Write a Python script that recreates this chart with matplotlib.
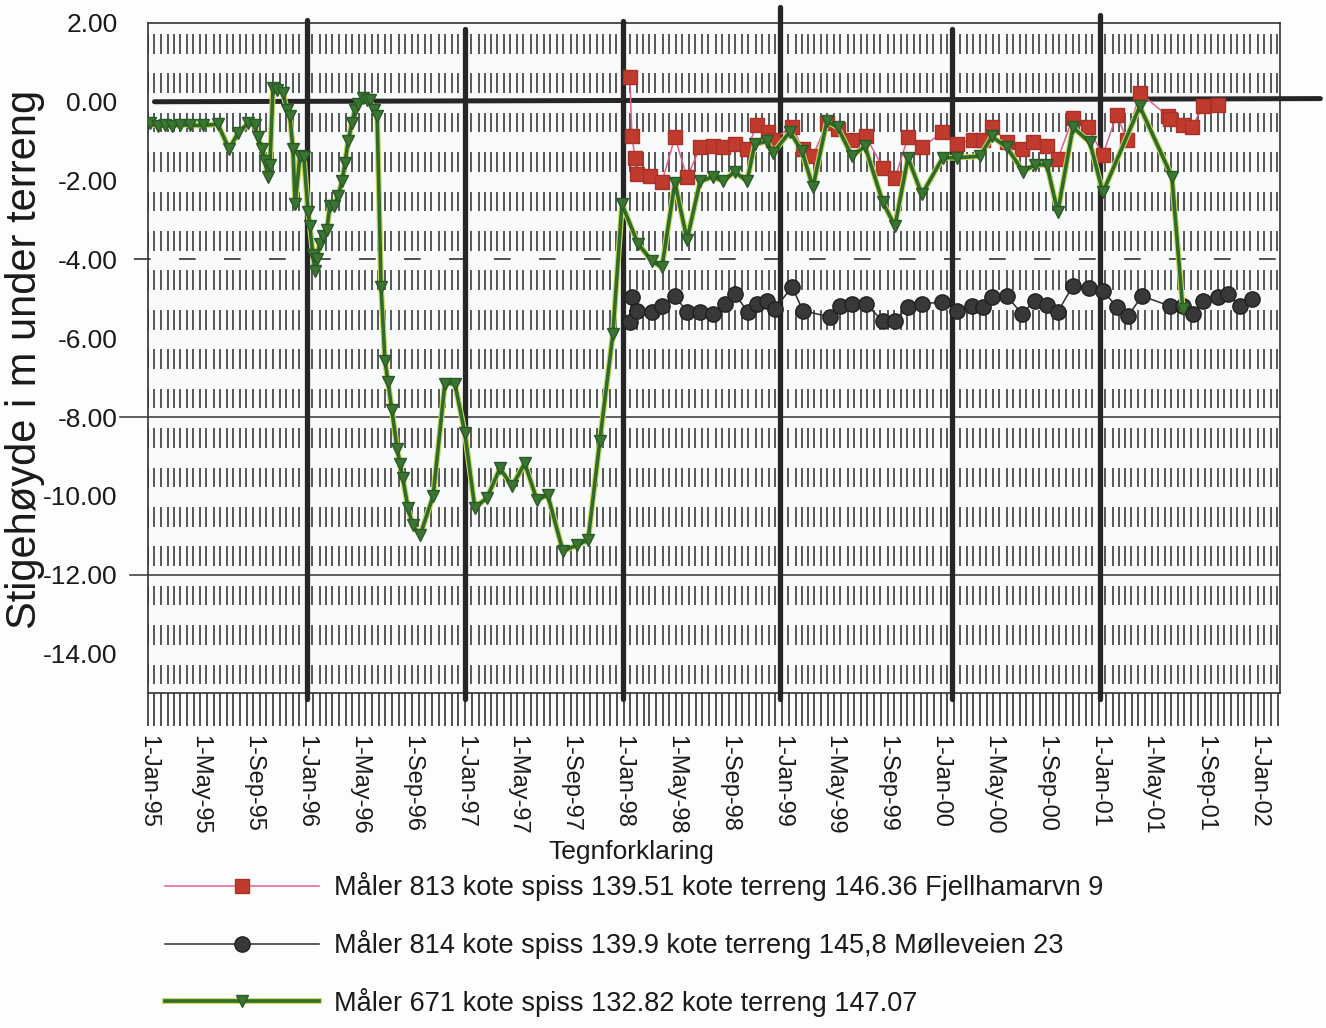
import numpy as np
import pandas as pd
import matplotlib
matplotlib.use("Agg")
import matplotlib.pyplot as plt
import matplotlib.dates as mdates
import matplotlib.patheffects as pe

plt.rcParams['font.family'] = ['Liberation Sans', 'DejaVu Sans']

# Måler 671 (green, triangles)
dates_671 = ['1995-01-06', '1995-01-24', '1995-02-09', '1995-02-25', '1995-03-16', '1995-04-08',
             '1995-05-08', '1995-06-11', '1995-07-07', '1995-07-27', '1995-08-19', '1995-09-04',
             '1995-09-11', '1995-09-21', '1995-09-28', '1995-10-04', '1995-10-09', '1995-10-16',
             '1995-10-25', '1995-11-08', '1995-11-17', '1995-11-24', '1995-12-01', '1995-12-06',
             '1995-12-17', '1995-12-26', '1996-01-05', '1996-01-09', '1996-01-16', '1996-01-21',
             '1996-01-25', '1996-02-01', '1996-02-08', '1996-02-17', '1996-02-24', '1996-03-04',
             '1996-03-14', '1996-03-23', '1996-03-30', '1996-04-06', '1996-04-15', '1996-04-22',
             '1996-04-29', '1996-05-10', '1996-05-19', '1996-05-26', '1996-06-05', '1996-06-12',
             '1996-06-21', '1996-06-30', '1996-07-07', '1996-07-16', '1996-07-28', '1996-08-04',
             '1996-08-10', '1996-08-22', '1996-09-02', '1996-09-19', '1996-10-19', '1996-11-15',
             '1996-12-08', '1996-12-31', '1997-01-23', '1997-02-20', '1997-03-22', '1997-04-19',
             '1997-05-18', '1997-06-15', '1997-07-10', '1997-08-14', '1997-09-15', '1997-10-11',
             '1997-11-07', '1997-12-07', '1997-12-28', '1998-02-03', '1998-03-07', '1998-03-30',
             '1998-04-29', '1998-05-27', '1998-06-26', '1998-07-26', '1998-08-18', '1998-09-14',
             '1998-10-12', '1998-10-30', '1998-11-27', '1998-12-11', '1999-01-19', '1999-02-16',
             '1999-03-13', '1999-04-14', '1999-05-09', '1999-06-11', '1999-07-11', '1999-08-21',
             '1999-09-18', '1999-10-18', '1999-11-19', '2000-01-06', '2000-02-08', '2000-04-01',
             '2000-04-28', '2000-06-02', '2000-07-09', '2000-08-05', '2000-09-02', '2000-09-27',
             '2000-11-01', '2000-12-10', '2001-01-09', '2001-04-04', '2001-06-17', '2001-07-12']
vals_671 = [-0.55, -0.62, -0.6, -0.62, -0.58, -0.6, -0.6, -0.57, -1.2, -0.8, -0.55, -0.6,
            -0.9, -1.2, -1.5, -1.9, -1.6, 0.35, 0.3, 0.23, -0.2, -0.37, -1.2, -2.6,
            -1.38, -1.4, -2.8, -3.15, -3.9, -4.3, -4.0, -3.6, -3.4, -3.25, -2.65, -2.65,
            -2.4, -2.0, -1.55, -1.0, -0.53, -0.2, -0.05, 0.1, 0.05, 0.05, -0.2, -0.37,
            -4.7, -6.57, -7.1, -7.83, -8.8, -9.2, -9.55, -10.3, -10.75, -11.0, -10.0, -7.15,
            -7.15, -8.4, -10.3, -10.05, -9.3, -9.75, -9.17, -10.1, -9.98, -11.4, -11.25, -11.12,
            -8.6, -5.9, -2.6, -3.6, -4.04, -4.2, -2.05, -3.5, -2.02, -1.9, -2.02, -1.77,
            -2.02, -1.08, -1.0, -1.3, -0.76, -1.26, -2.17, -0.5, -0.65, -1.38, -1.13, -2.55,
            -3.15, -1.42, -2.35, -1.42, -1.42, -1.38, -0.88, -1.16, -1.77, -1.6, -1.6, -2.8,
            -0.65, -1.03, -2.3, -0.12, -1.9, -5.25]

# Måler 813 (red squares)
dates_813 = ['1998-01-15', '1998-01-20', '1998-01-27', '1998-01-31', '1998-03-02', '1998-03-30',
             '1998-04-29', '1998-05-27', '1998-06-26', '1998-07-26', '1998-08-18', '1998-09-14',
             '1998-10-12', '1998-11-04', '1998-11-29', '1998-12-11', '1999-01-24', '1999-02-18',
             '1999-03-13', '1999-04-14', '1999-05-09', '1999-06-11', '1999-07-13', '1999-08-21',
             '1999-09-18', '1999-10-18', '1999-11-19', '2000-01-04', '2000-02-08', '2000-03-15',
             '2000-04-07', '2000-04-28', '2000-06-02', '2000-07-06', '2000-08-01', '2000-09-02',
             '2000-09-27', '2000-11-01', '2000-12-05', '2001-01-09', '2001-02-10', '2001-03-05',
             '2001-04-04', '2001-06-08', '2001-06-12', '2001-07-12', '2001-08-02', '2001-08-27',
             '2001-10-01']
vals_813 = [0.64, -0.88, -1.42, -1.84, -1.89, -2.04, -0.9, -1.92, -1.16, -1.13, -1.16, -1.08,
            -1.2, -0.58, -0.76, -0.96, -0.63, -1.21, -1.38, -0.53, -0.7, -0.96, -0.88, -1.67,
            -1.94, -0.9, -1.16, -0.78, -1.08, -0.96, -0.96, -0.63, -1.03, -1.21, -1.03, -1.13,
            -1.46, -0.4, -0.65, -1.34, -0.33, -0.96, 0.23, -0.37, -0.45, -0.58, -0.65, -0.12,
            -0.07]

# Måler 814 (black circles)
dates_814 = ['1998-01-15', '1998-01-20', '1998-02-01', '1998-03-07', '1998-03-30', '1998-04-29',
             '1998-05-27', '1998-06-26', '1998-07-26', '1998-08-22', '1998-09-14', '1998-10-14',
             '1998-11-04', '1998-11-27', '1998-12-15', '1999-01-24', '1999-02-18', '1999-04-21',
             '1999-05-14', '1999-06-11', '1999-07-13', '1999-08-21', '1999-09-18', '1999-10-18',
             '1999-11-19', '2000-01-04', '2000-02-08', '2000-03-13', '2000-04-07', '2000-04-28',
             '2000-06-02', '2000-07-06', '2000-08-05', '2000-09-02', '2000-09-27', '2000-11-01',
             '2000-12-08', '2001-01-09', '2001-02-10', '2001-03-08', '2001-04-09', '2001-06-12',
             '2001-07-12', '2001-08-04', '2001-08-27', '2001-10-01', '2001-10-24', '2001-11-21',
             '2001-12-18']
vals_814 = [-5.6, -4.95, -5.3, -5.33, -5.18, -4.93, -5.33, -5.33, -5.38, -5.13, -4.88, -5.33,
            -5.13, -5.05, -5.25, -4.7, -5.3, -5.46, -5.18, -5.13, -5.13, -5.56, -5.56, -5.2,
            -5.13, -5.08, -5.3, -5.18, -5.2, -4.95, -4.93, -5.38, -5.05, -5.15, -5.33, -4.67,
            -4.72, -4.8, -5.2, -5.43, -4.93, -5.18, -5.18, -5.38, -5.05, -4.95, -4.88, -5.18,
            -5.0]

labels = ['Måler 813 kote spiss 139.51 kote terreng 146.36 Fjellhamarvn 9',
          'Måler 814 kote spiss 139.9 kote terreng 145,8 Mølleveien 23',
          'Måler 671 kote spiss 132.82 kote terreng 147.07']

# hand-drawn year marks on the original print
pen_marks = ['1996-01-03', '1997-01-01', '1997-12-31', '1998-12-28', '2000-01-27', '2001-01-02']
pen_tops = [2.08, 1.85, 2.05, 2.4, 1.85, 2.2]

d671 = pd.to_datetime(dates_671)
d813 = pd.to_datetime(dates_813)
d814 = pd.to_datetime(dates_814)

fig = plt.figure(figsize=(13.26, 10.28), dpi=100, facecolor='#fdfdfd')
ax = fig.add_axes([0.1116, 0.3259, 0.8537, 0.6518])
ax.set_facecolor('#f8fafc')

ax.set_xlim(pd.Timestamp('1995-01-01'), pd.Timestamp('2002-02-21'))
ax.set_ylim(-15, 2)

# dashed half-month vertical grid
grid_x = pd.date_range('1995-01-01', '2002-02-20', freq='SMS')
for k in range(-15, 2):
    ax.vlines(grid_x, k + 0.22, k + 0.72, color='#4a4a4a', lw=1.3, zorder=1)

# horizontal reference lines
ax.plot([-0.012, 1], [-4, -4], transform=ax.get_yaxis_transform(), clip_on=False,
        color='#333333', lw=1.2, dashes=(10, 17), zorder=2)
ax.plot([-0.025, 1], [-8, -8], transform=ax.get_yaxis_transform(), clip_on=False,
        color='#444444', lw=1.2, zorder=2)
ax.plot([-0.016, 1], [-12, -12], transform=ax.get_yaxis_transform(), clip_on=False,
        color='#444444', lw=1.2, zorder=2)

# thick pen lines
ax.plot([pd.Timestamp('1995-01-16'), pd.Timestamp('2002-05-25')], [0, 0.08],
        color='#262626', lw=3.6, clip_on=False, zorder=3, solid_capstyle='round')
for d, top in zip(pen_marks, pen_tops):
    ax.plot([pd.Timestamp(d)] * 2, [-15.15, top], color='#262626', lw=3.8,
            clip_on=False, zorder=3, solid_capstyle='round')

l813, = ax.plot(d813, vals_813, color='#e0608a', lw=1.1, marker='s', ms=10,
                mfc='#c03a2e', mec='#a83228', zorder=4)
l814, = ax.plot(d814, vals_814, color='#2e2e2e', lw=1.1, marker='o', ms=11,
                mfc='#383838', mec='#202020', zorder=5)
l671, = ax.plot(d671, vals_671, color='#2f6b2a', lw=2.6, zorder=6,
                path_effects=[pe.Stroke(linewidth=4.2, foreground='#c9d85a'), pe.Normal()])
m671, = ax.plot(d671, vals_671, ls='none', marker='v', ms=9,
                mfc='#3a7532', mec='#2a5a25', zorder=7)

# axes styling
for s in ax.spines.values():
    s.set_color('#333333')
    s.set_linewidth(1.2)

ax.set_yticks(np.arange(-14, 3, 2))
ax.yaxis.set_major_formatter(plt.FuncFormatter(lambda v, p: f'{v:.2f}'))
ax.tick_params(axis='y', length=0, pad=22, labelsize=19, colors='#1a1a1a')

ax.xaxis.set_major_locator(mdates.MonthLocator(bymonth=[1, 5, 9]))
ax.xaxis.set_major_formatter(mdates.DateFormatter('1-%b-%y'))
ax.xaxis.set_minor_locator(mdates.MonthLocator(bymonthday=[1, 16]))
ax.tick_params(axis='x', which='both', direction='out', length=24, width=1.2,
               color='#333333')
ax.tick_params(axis='x', which='major', pad=6, labelsize=17, labelrotation=270,
               labelcolor='#1a1a1a')

fig.text(0.019, 0.65, 'Stigehøyde i m under terreng', rotation=90, fontsize=30,
         ha='center', va='center', color='#1a1a1a')

fig.text(631 / 1326, 1 - 852 / 1028, 'Tegnforklaring', fontsize=19,
         ha='center', va='center', color='#1a1a1a')
# tuple handle overlays the haloed line and its triangle markers
leg = fig.legend([l813, l814, (l671, m671)], labels, loc='upper left',
                 bbox_to_anchor=(165 / 1326, 1 - 872 / 1028),
                 frameon=False, fontsize=19.5,
                 handlelength=5.7, handletextpad=0.55, labelspacing=1.07,
                 borderpad=0, borderaxespad=0)
for t in leg.get_texts():
    t.set_color('#1a1a1a')

fig.savefig('out.png', dpi=100, facecolor=fig.get_facecolor())
